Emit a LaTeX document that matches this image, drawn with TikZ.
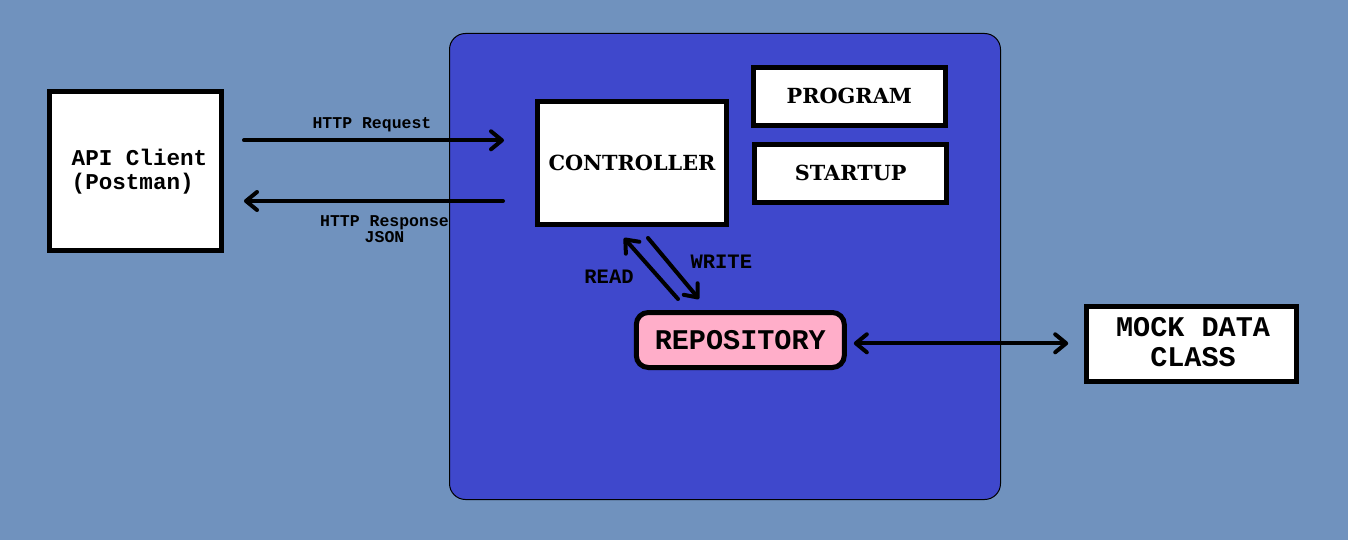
\documentclass[tikz,border=0pt]{standalone}
\usepackage{fontspec}
\usetikzlibrary{arrows.meta}
\newfontfamily\monof{Liberation Mono}
\newfontfamily\slabf{DejaVu Serif}[BoldFont={DejaVu Serif Bold}]
\definecolor{bgc}{HTML}{7092BE}
\definecolor{appc}{HTML}{3F48CC}
\definecolor{pinkc}{HTML}{FFAEC9}
\tikzset{
  box/.style={draw=black, fill=white, line width=5pt, inner sep=0pt},
  arr/.style={line width=4pt, line cap=round, -{Straight Barb[length=11pt,width=18pt,round]}},
  darr/.style={line width=4pt, line cap=round, {Straight Barb[length=11pt,width=18pt,round]}-{Straight Barb[length=11pt,width=18pt,round]}},
  lbl/.style={font=\monof\bfseries\fontsize{16.5}{16.7}\selectfont, inner sep=0pt},
  rwlbl/.style={font=\monof\bfseries\fontsize{20.5}{22}\selectfont, inner sep=0pt},
  slab/.style={font=\slabf\bfseries\fontsize{20.8}{24}\selectfont},
}
\begin{document}
\begin{tikzpicture}[x=1pt,y=-1pt]
\useasboundingbox (0,0) rectangle (1348,540);
\fill[bgc] (0,0) rectangle (1348,540);
% container
\node[draw=black, fill=appc, line width=1pt, rounded corners=16pt, minimum width=551pt, minimum height=466pt, inner sep=0pt] (app) at (725,266.5) {};
% boxes
\node[box, minimum width=172pt, minimum height=159pt] (api) at (135.5,171) {};
\node[align=left, inner sep=0pt, font=\monof\bfseries\fontsize{22.6}{24}\selectfont] (apiT) at (139.5,171.5) {API Client\\(Postman)};
\node[box, minimum width=189pt, minimum height=123pt, slab] (ctrl) at (632,163) {CONTROLLER};
\node[box, minimum width=192pt, minimum height=58pt, slab] (prog) at (849.3,96.3) {PROGRAM};
\node[box, minimum width=192pt, minimum height=58pt, slab] (start) at (850.7,173.3) {STARTUP};
\node[box, fill=pinkc, rounded corners=12pt, minimum width=208pt, minimum height=55pt, font=\monof\bfseries\fontsize{28.5}{30}\selectfont] (repo) at (740.3,340) {REPOSITORY};
\node[box, minimum width=210pt, minimum height=75pt] (mock) at (1191.7,344.2) {};
\node[align=center, inner sep=0pt, font=\monof\bfseries\fontsize{28.5}{30}\selectfont] (mockT) at (1193,342.5) {MOCK DATA\\CLASS};
% connector end points
\coordinate (reqS) at (244,140.3);
\coordinate (reqE) at (504,140.3);
\coordinate (resS) at (503,201);
\coordinate (resE) at (244,201);
\coordinate (readS) at (678,299);
\coordinate (readE) at (624,238);
\coordinate (writeS) at (648,238);
\coordinate (writeE) at (699,299);
% connectors
\draw[arr] (reqS) -- (reqE);
\draw[arr] (resS) -- (resE);
\draw[arr] (readS) -- (readE);
\draw[arr] (writeS) -- (writeE);
\draw[darr] ([xshift=7pt]repo.east |- 0,343.3) -- ([xshift=-16pt]mock.west |- 0,343.3);
% labels
\node[lbl, anchor=base] (reqL) at (372,128.3) {HTTP Request};
\node[lbl, align=center] (resL) at (384.5,229) {HTTP Response\\JSON};
\node[rwlbl] (readL) at (609,277.2) {READ};
\node[rwlbl] (writeL) at (721.3,261.3) {WRITE};
\end{tikzpicture}
\end{document}
